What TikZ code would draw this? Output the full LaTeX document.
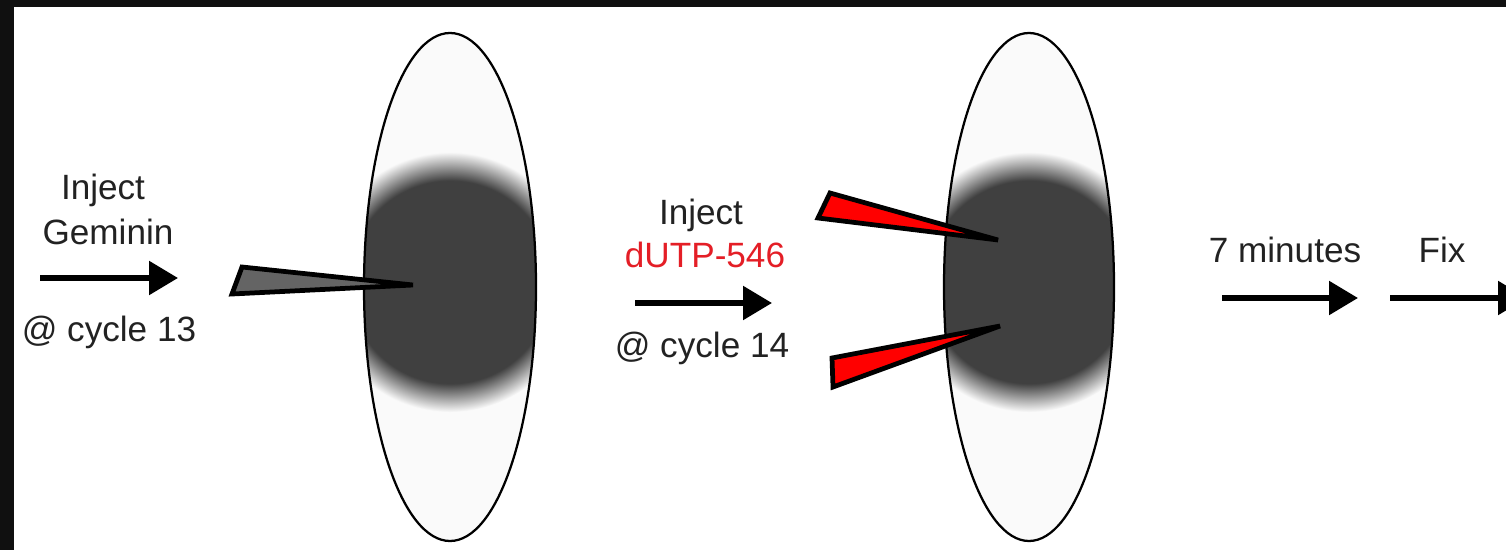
\documentclass[tikz,border=0pt]{standalone}
\usepackage{fontspec}
\setmainfont{Liberation Sans}
\usetikzlibrary{arrows.meta}

\definecolor{nucgray}{RGB}{64,64,64}
\definecolor{cellfill}{RGB}{250,250,250}
\definecolor{txtgray}{RGB}{34,34,34}
\definecolor{dyered}{RGB}{228,30,38}
\definecolor{needlegray}{RGB}{100,100,100}
\definecolor{framedark}{RGB}{16,16,16}
% dark nucleus with a soft rim
\pgfdeclareradialshading{nucleus}{\pgfpointorigin}{color(0bp)=(nucgray); color(19.5bp)=(nucgray); color(25bp)=(cellfill); color(50bp)=(cellfill)}

\begin{document}
\begin{tikzpicture}[x=0.02cm, y=-0.02cm,
    lbl/.style={anchor=base, inner sep=0pt, text=txtgray, font=\fontsize{20}{24}\selectfont},
    flow/.style={line width=0.11cm, -{Triangle[length=0.58cm, width=0.66cm]}},
    cell/.style={draw=black, line width=0.045cm},
    needle/.style={draw=black, line width=0.095cm, line join=miter}]
\useasboundingbox (0,0) rectangle (1506,550);
\fill[framedark] (0,0) rectangle (1506,550);
\fill[white] (14,7) rectangle (1506,550);
\clip (14,7) rectangle (1506,550);

% embryo at cycle 13
\fill[cellfill] (450,287) ellipse [x radius=86, y radius=254];
\begin{scope}
  \clip (450,287) ellipse [x radius=86, y radius=254];
  \shade[shading=nucleus] (450,282) circle [radius=130];
\end{scope}
\draw[cell] (450,287) ellipse [x radius=86, y radius=254];

% embryo at cycle 14
\fill[cellfill] (1029,287) ellipse [x radius=85, y radius=254];
\begin{scope}
  \clip (1029,287) ellipse [x radius=85, y radius=254];
  \shade[shading=nucleus] (1029,282) circle [radius=130];
\end{scope}
\draw[cell] (1029,287) ellipse [x radius=85, y radius=254];

% injection needles
\draw[needle, fill=needlegray] (242,267) -- (413,285) -- (232,294) -- cycle;
\draw[needle, fill=red] (830,193) -- (998,240) -- (818,218) -- cycle;
\draw[needle, fill=red] (832,358) -- (1000,326) -- (833,387) -- cycle;

% first injection
\node[lbl] (injA) at (103,200) {Inject};
\node[lbl] (gemA) at (108,245) {Geminin};
\node[lbl] (cycA) at (109,341) {@ cycle 13};
\coordinate (fromA) at (40,278);
\coordinate (toA) at (178,278);
\draw[flow] (fromA) -- (toA);

% second injection
\node[lbl] (injB) at (701,225) {Inject};
\node[lbl, text=dyered] (dutp) at (705,268) {dUTP-546};
\node[lbl] (cycB) at (702,357) {@ cycle 14};
\coordinate (fromB) at (635,303);
\coordinate (toB) at (772,303);
\draw[flow] (fromB) -- (toB);

% wait, then fix
\node[lbl] (wait) at (1285,263) {7 minutes};
\coordinate (fromC) at (1222,298);
\coordinate (toC) at (1358,298);
\draw[flow] (fromC) -- (toC);
\node[lbl] (fix) at (1442,263) {Fix};
\coordinate (fromD) at (1390,298);
\coordinate (toD) at (1527,298);
\draw[flow] (fromD) -- (toD);
\end{tikzpicture}
\end{document}
